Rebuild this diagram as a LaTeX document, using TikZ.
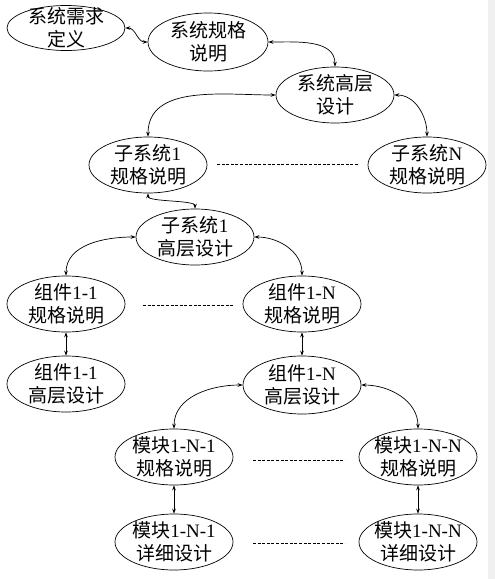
\documentclass[tikz,border=0pt]{standalone}
\usepackage{fontspec}
\setmainfont{Liberation Serif}
\newfontfamily\cjk{Noto Sans CJK SC}
\usetikzlibrary{shapes.geometric,arrows.meta}
\newcommand{\zh}[1]{{\cjk #1}}

\begin{document}
\begin{tikzpicture}[x=1pt,y=-1pt,
  phase/.style={draw,ellipse,line width=0.7pt,minimum width=118pt,minimum height=56pt,inner sep=-6pt,align=center,font=\fontsize{19}{23}\selectfont},
  link/.style={{Stealth[length=5pt,width=3.6pt]}-{Stealth[length=5pt,width=3.6pt]},line width=0.7pt},
  gap/.style={line width=0.6pt,dash pattern=on 3pt off 1.6pt}]
\useasboundingbox (0,0) rectangle (495,579);
\fill[black!6] (488,0) rectangle (495,579);
% system level
\node[phase,minimum height=45pt] (req) at (66,28) {\zh{系统需求}\\\zh{定义}};
\node[phase,minimum width=120pt,minimum height=58pt] (spec) at (208,42) {\zh{系统规格}\\\zh{说明}};
\node[phase] (sysdes) at (335,95) {\zh{系统高层}\\\zh{设计}};
\node[phase] (sub1spec) at (148,165) {\zh{子系统}1\\\zh{规格说明}};
\node[phase] (subNspec) at (427,165) {\zh{子系统}N\\\zh{规格说明}};
\node[phase] (sub1des) at (195,237) {\zh{子系统}1\\\zh{高层设计}};
% components
\node[phase] (comp11spec) at (66,304) {\zh{组件}1-1\\\zh{规格说明}};
\node[phase] (comp1Nspec) at (302,304) {\zh{组件}1-N\\\zh{规格说明}};
\node[phase] (comp11des) at (66,384) {\zh{组件}1-1\\\zh{高层设计}};
\node[phase,minimum height=58pt] (comp1Ndes) at (302,385) {\zh{组件}1-N\\\zh{高层设计}};
% modules
\node[phase] (mod1spec) at (174,457) {\zh{模块}1-N-1\\\zh{规格说明}};
\node[phase] (modNspec) at (418,457) {\zh{模块}1-N-N\\\zh{规格说明}};
\node[phase] (mod1des) at (174,542) {\zh{模块}1-N-1\\\zh{详细设计}};
\node[phase] (modNdes) at (418,542) {\zh{模块}1-N-N\\\zh{详细设计}};

\draw[link] (req.east) to[out=0,in=180] (spec.west);
\draw[link] (spec.east) to[out=0,in=90] (sysdes.north);
\draw[link] (sysdes.west) to[out=180,in=90] (sub1spec.north);
\draw[link] (sysdes.east) to[out=0,in=90] (subNspec.north);
\draw[link] (sub1spec.south) to[out=-90,in=90,looseness=0.45] (sub1des.north);
\draw[link] (sub1des.west) to[out=180,in=90] (comp11spec.north);
\draw[link] (sub1des.east) to[out=0,in=90] (comp1Nspec.north);
\draw[link] (comp11spec) -- (comp11des);
\draw[link] (comp1Nspec) -- (comp1Ndes);
\draw[link] (comp1Ndes.west) to[out=180,in=90] (mod1spec.north);
\draw[link] (comp1Ndes.east) to[out=0,in=90] (modNspec.north);
\draw[link] (mod1spec) -- (mod1des);
\draw[link] (modNspec) -- (modNdes);

\coordinate (g1a) at (217,164); \coordinate (g1b) at (358,164);
\coordinate (g2a) at (143,305); \coordinate (g2b) at (233,305);
\coordinate (g3a) at (253,460); \coordinate (g3b) at (345,460);
\coordinate (g4a) at (253,543); \coordinate (g4b) at (345,543);
\draw[gap] (g1a)--(g1b);
\draw[gap] (g2a)--(g2b);
\draw[gap] (g3a)--(g3b);
\draw[gap] (g4a)--(g4b);
\end{tikzpicture}
\end{document}
